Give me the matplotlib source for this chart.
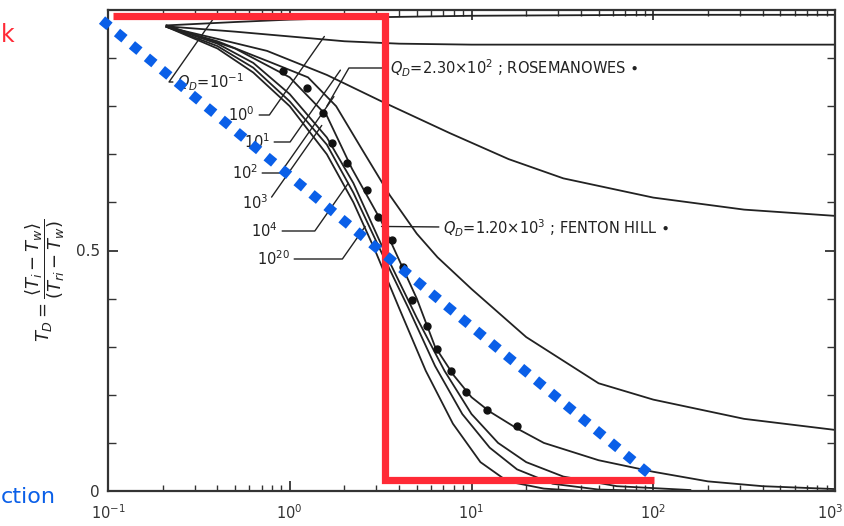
import numpy as np
import matplotlib
matplotlib.use("Agg")
import matplotlib.pyplot as plt
from matplotlib.ticker import FixedLocator, LogLocator, NullFormatter

# ---------------- data ----------------
# Q_D = 1e-1 (top curve)
qa_x = [0.21, 0.5, 1.0, 3.0, 10, 100, 1000]
qa_y = [0.968, 0.975, 0.98, 0.985, 0.988, 0.99, 0.99]
# Q_D = 1e0
qb_x = [0.21, 0.5, 1.0, 2.0, 4.0, 10, 100, 1000]
qb_y = [0.966, 0.955, 0.945, 0.935, 0.93, 0.928, 0.928, 0.928]
# Q_D = 1e1
qc_x = [0.21, 0.4, 0.75, 1.6, 3.2, 7.6, 16, 32, 100, 316, 1000]
qc_y = [0.965, 0.94, 0.915, 0.865, 0.81, 0.744, 0.69, 0.65, 0.61, 0.585, 0.572]
# Q_D = 1e2
qd_x = [0.21, 0.4, 0.8, 1.26, 1.8, 2.5, 3.55, 5.0, 6.5, 10, 20, 50, 100, 316, 1000]
qd_y = [0.965, 0.935, 0.89, 0.86, 0.80, 0.71, 0.615, 0.535, 0.486, 0.42, 0.32, 0.224, 0.19, 0.15, 0.127]
# Q_D = 2.30e2  Rosemanowes curve
qr_x = [0.21, 0.5, 1.0, 1.6, 2.2, 3.2, 4.0, 5.0, 6.3, 8.0, 10, 12.6, 17.8, 25, 50, 100, 200, 400, 1000]
qr_y = [0.968, 0.92, 0.86, 0.78, 0.67, 0.56, 0.48, 0.40, 0.30, 0.24, 0.195, 0.165, 0.13, 0.10, 0.064, 0.04, 0.02, 0.01, 0.004]
# Q_D = 1e3
q3_x = [0.21, 0.4, 0.63, 1.0, 1.6, 2.24, 3.3, 5.0, 7.1, 10, 14, 20, 32, 63, 160]
q3_y = [0.966, 0.93, 0.89, 0.825, 0.735, 0.64, 0.50, 0.36, 0.25, 0.16, 0.10, 0.06, 0.03, 0.01, 0.002]
# Q_D = 1e4
q4_x = [0.21, 0.4, 0.63, 1.0, 1.6, 2.24, 3.16, 4.5, 6.3, 8.9, 12.6, 17.8, 28, 50, 100]
q4_y = [0.965, 0.925, 0.88, 0.81, 0.72, 0.62, 0.50, 0.38, 0.26, 0.16, 0.09, 0.045, 0.015, 0.003, 0.0]
# Q_D = 1e20
q20_x = [0.21, 0.4, 0.63, 1.0, 1.6, 2.24, 2.95, 4.0, 5.6, 7.9, 11.2, 15.8, 25, 40]
q20_y = [0.965, 0.92, 0.87, 0.80, 0.70, 0.60, 0.50, 0.38, 0.25, 0.14, 0.06, 0.02, 0.005, 0.0]

# field data points
pts_x = [0.916, 1.24, 1.52, 1.70, 2.06, 2.65, 3.05, 3.64, 4.18, 4.68, 5.66, 6.43, 7.67, 9.28, 12.2, 17.7]
pts_y = [0.873, 0.838, 0.786, 0.723, 0.682, 0.626, 0.570, 0.522, 0.466, 0.397, 0.343, 0.295, 0.249, 0.206, 0.168, 0.135]

# overlay marks (red step, blue diagonal)
red_x = [0.106, 3.33, 3.33, 101]
red_y = [0.988, 0.988, 0.023, 0.023]
blue_x = [0.0927, 101]
blue_y = [0.979, 0.027]

xtick_vals = [0.1, 1, 10, 100, 1000]
xtick_labels = ['$10^{-1}$', '$10^{0}$', '$10^{1}$', '$10^{2}$', '$10^{3}$']
ytick_vals = [0, 0.5]
ytick_labels = ['0', '0.5']

# ---------------- figure ----------------
W, H = 844, 526
fig = plt.figure(figsize=(W / 100, H / 100), dpi=100)
ax = fig.add_axes([108 / W, 35 / H, 727 / W, 481 / H])
ax.set_xscale('log')
ax.set_xlim(0.1, 1000)
ax.set_ylim(0, 1.0)

lc = '#222222'
lw = 1.3
for xs, ys in [(qa_x, qa_y), (qb_x, qb_y), (qc_x, qc_y), (qd_x, qd_y),
               (qr_x, qr_y), (q3_x, q3_y), (q4_x, q4_y), (q20_x, q20_y)]:
    ax.plot(xs, ys, color=lc, lw=lw, solid_joinstyle='round')

ax.plot(pts_x, pts_y, 'o', color='#111111', ms=5, zorder=5)

# axes styling
for s in ax.spines.values():
    s.set_linewidth(1.6)
    s.set_color('#333333')
ax.set_xticks(xtick_vals)
ax.set_xticklabels(xtick_labels, fontsize=10.5, color='#333333')
ax.xaxis.set_minor_locator(LogLocator(base=10, subs=np.arange(2, 10)))
ax.xaxis.set_minor_formatter(NullFormatter())
ax.yaxis.set_major_locator(FixedLocator(ytick_vals))
ax.set_yticklabels(ytick_labels, fontsize=11, color='#333333')
ax.yaxis.set_minor_locator(FixedLocator(np.arange(0.1, 1.0, 0.1)))
ax.tick_params(which='both', direction='in', top=True, right=True, color='#333333')
ax.tick_params(which='major', length=7, width=1.3)
ax.tick_params(which='minor', length=4, width=1.0)
ax.tick_params(axis='y', which='minor', length=6)
ax.tick_params(axis='x', pad=9)
ax.tick_params(axis='y', pad=6)
# last x label sits at the right edge; nudge it so it stays inside the picture
ax.get_xticklabels()[-1].set_horizontalalignment('right')
import matplotlib.transforms as mtransforms
ax.get_xticklabels()[-1].set_transform(
    ax.get_xticklabels()[-1].get_transform() + mtransforms.ScaledTranslation(8 / 100, 0, fig.dpi_scale_trans))

# y label
fig.text(45 / W, 1 - 280 / H,
         r'$T_D = \dfrac{\langle T_i - T_w \rangle}{(T_{ri} - T_w)}$',
         rotation=90, ha='center', va='center', fontsize=13, color='#222222')

# curve labels with leaders
def af(px, py):
    return ((px - 108) / 727, (491 - py) / 481)

lab_kw = dict(fontsize=10.5, color='#222222', va='center')
leader = dict(arrowstyle='-', color=lc, lw=1.0, shrinkA=1, shrinkB=0)

labels = [
    (r'$Q_D$=10$^{-1}$', (244, 82), (0.38, 0.982)),
    (r'10$^{0}$', (255, 115), (1.55, 0.945)),
    (r'10$^{1}$', (270, 142), (1.9, 0.875)),
    (r'10$^{2}$', (258, 173), (1.75, 0.82)),
    (r'10$^{3}$', (268, 203), (1.5, 0.76)),
    (r'10$^{4}$', (278, 231), (2.1, 0.64)),
    (r'10$^{20}$', (290, 259), (2.6, 0.55)),
]
for txt, (px, py), xy in labels:
    ax.annotate(txt, xy=xy, xycoords='data', xytext=af(px, py), textcoords='axes fraction',
                ha='right', arrowprops=dict(connectionstyle='angle,angleA=0,angleB=55,rad=0', **leader),
                **lab_kw)

ax.annotate(r'$Q_D$=2.30$\times$10$^{2}$ ; ROSEMANOWES $\bullet$', xy=(1.6, 0.80), xycoords='data',
            xytext=af(390, 68), textcoords='axes fraction', ha='left',
            arrowprops=dict(connectionstyle='angle,angleA=180,angleB=60,rad=0', **leader), **lab_kw)
ax.annotate(r'$Q_D$=1.20$\times$10$^{3}$ ; FENTON HILL $\bullet$', xy=(3.2, 0.55), xycoords='data',
            xytext=af(443, 228), textcoords='axes fraction', ha='left',
            arrowprops=dict(**leader), **lab_kw)

# overlays
ax.plot(red_x, red_y, color='#ff2a36', lw=5.2, clip_on=False, zorder=8,
        solid_joinstyle='miter', solid_capstyle='butt')
ax.plot(blue_x, blue_y, color='#0a5fe8', lw=7, linestyle=(0, (1, 1)), clip_on=False, zorder=9,
        dash_capstyle='butt')

fig.text(0.001, 1 - 35 / H, 'k', color='#ff2a36', fontsize=17, ha='left', va='center')
fig.text(0.001, 1 - 497 / H, 'ction', color='#0a5fe8', fontsize=16, ha='left', va='center')

fig.savefig('out.png', dpi=100, facecolor='white')
